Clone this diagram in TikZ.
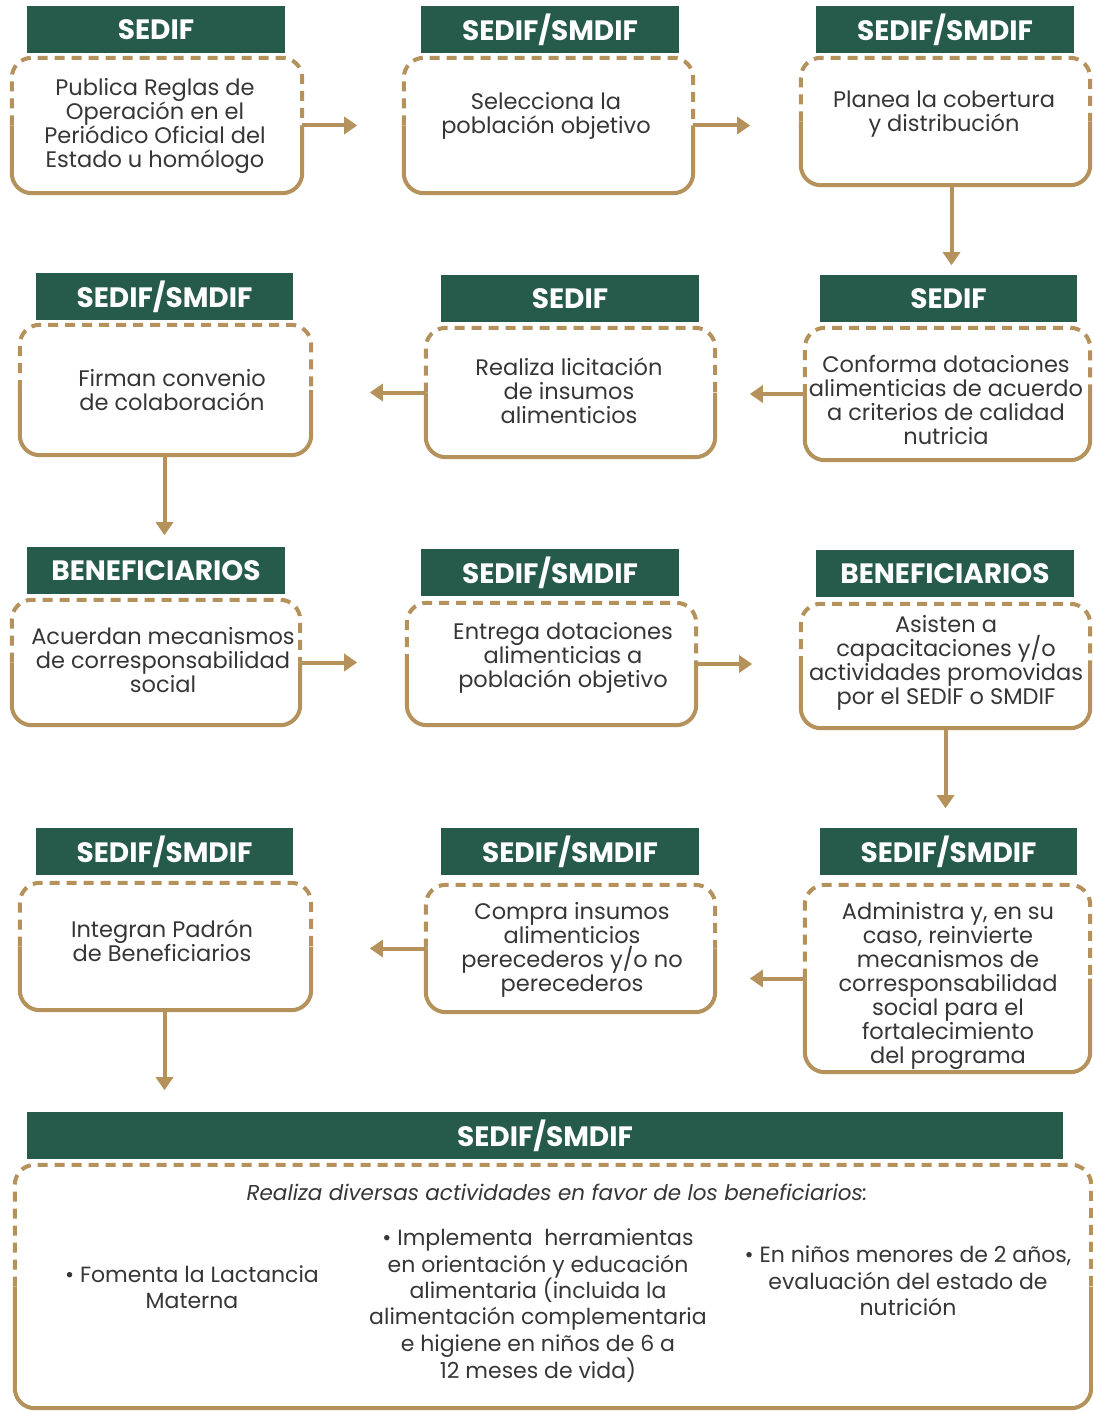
\documentclass[tikz,border=0pt]{standalone}
\usepackage{fontspec}
\setmainfont{Poppins}
\usetikzlibrary{arrows.meta,calc}
\definecolor{gold}{HTML}{B5925C}
\definecolor{hgreen}{HTML}{265A4B}
\definecolor{txt}{HTML}{363636}
\tikzset{
 hdr/.style={fill=hgreen, text=white, font=\bfseries\fontsize{28}{30}\selectfont, inner sep=0, minimum height=47pt},
 body/.style={inner sep=0, align=center, text=txt, font=\fontsize{22.5}{24}\selectfont},
 boxn/.style={inner sep=0, draw=none},
 dashedge/.style={draw=gold, line width=4pt, dash pattern=on 10pt off 7pt, rounded corners=20pt},
 solidedge/.style={draw=gold, line width=4pt, rounded corners=20pt},
 arr/.style={draw=gold, line width=4pt, -{Triangle[length=13pt,width=17pt]}},
}
\newcommand\frameit[1]{%
 \draw[dashedge] (#1.west) -- (#1.north west) -- (#1.north east) -- (#1.east);
 \draw[solidedge] (#1.west) -- (#1.south west) -- (#1.south east) -- (#1.east);}
\begin{document}
\begin{tikzpicture}[x=1pt,y=-1pt]
\fill[white] (0,0) rectangle (1092,1412);
\useasboundingbox (0,0) rectangle (1092,1412);
% boxes
\node[boxn, minimum width=290pt, minimum height=135pt] (b1) at (157,125.5) {};
\node[boxn, minimum width=289pt, minimum height=135pt] (b2) at (548.5,125.5) {};
\node[boxn, minimum width=289pt, minimum height=127pt] (b3) at (945.5,121.5) {};
\node[boxn, minimum width=291pt, minimum height=130pt] (b4) at (165.5,390) {};
\node[boxn, minimum width=289pt, minimum height=129pt] (b5) at (570.5,392.5) {};
\node[boxn, minimum width=285pt, minimum height=132pt] (b6) at (947.5,394) {};
\node[boxn, minimum width=288pt, minimum height=125pt] (b7) at (156,662.5) {};
\node[boxn, minimum width=289pt, minimum height=122pt] (b8) at (551.5,664) {};
\node[boxn, minimum width=289pt, minimum height=124pt] (b9) at (945.5,666) {};
\node[boxn, minimum width=291pt, minimum height=127pt] (b10) at (165.5,946.5) {};
\node[boxn, minimum width=289pt, minimum height=127pt] (b11) at (570.5,948.5) {};
\node[boxn, minimum width=285pt, minimum height=187pt] (b12) at (947.5,978.5) {};
\node[boxn, minimum width=1076pt, minimum height=243pt] (b13) at (553,1286.5) {};
\foreach \b in {b1,b2,b3,b4,b5,b6,b7,b8,b9,b10,b11,b12,b13} {\frameit{\b}}
% headers
\node[hdr, minimum width=258pt] (h1) at (156,30) {SEDIF};
\node[hdr, minimum width=258pt] (h2) at (550,30) {SEDIF/SMDIF};
\node[hdr, minimum width=258pt] (h3) at (945,30) {SEDIF/SMDIF};
\node[hdr, minimum width=257pt] (h4) at (164.5,296.5) {SEDIF/SMDIF};
\node[hdr, minimum width=258pt] (h5) at (570,298.5) {SEDIF};
\node[hdr, minimum width=257pt] (h6) at (948.5,298.5) {SEDIF};
\node[hdr, minimum width=258pt] (h7) at (156,570.5) {BENEFICIARIOS};
\node[hdr, minimum width=258pt] (h8) at (550,572.5) {SEDIF/SMDIF};
\node[hdr, minimum width=258pt] (h9) at (945,573.5) {BENEFICIARIOS};
\node[hdr, minimum width=257pt] (h10) at (164.5,851.5) {SEDIF/SMDIF};
\node[hdr, minimum width=258pt] (h11) at (570,851.5) {SEDIF/SMDIF};
\node[hdr, minimum width=257pt] (h12) at (948.5,851.5) {SEDIF/SMDIF};
\node[hdr, minimum width=1036pt] (h13) at (545,1135.5) {SEDIF/SMDIF};
% texts
\node[body] (t1) at (155,126) {Publica Reglas de\\Operación en el\\Periódico Oficial del\\Estado u homólogo};
\node[body] (t2) at (546,116) {Selecciona la\\población objetivo};
\node[body] (t3) at (944,114.5) {Planea la cobertura\\y distribución};
\node[body] (t4) at (172,390.5) {Firman convenio\\de colaboración};
\node[body] (t5) at (569,390.5) {Realiza licitación\\de insumos\\alimenticios};
\node[body] (t6) at (946,400) {Conforma dotaciones\\alimenticias de acuerdo\\a criterios de calidad\\nutricia};
\node[body] (t7) at (163,660) {Acuerdan mecanismos\\de corresponsabilidad\\social};
\node[body] (t8) at (563,658) {Entrega dotaciones\\alimenticias a\\población objetivo};
\node[body] (t9) at (946,662.5) {Asisten a\\capacitaciones y/o\\actividades promovidas\\por el SEDIF o SMDIF};
\node[body] (t10) at (162,941) {Integran Padrón\\de Beneficiarios};
\node[body] (t11) at (572,950) {Compra insumos\\alimenticios\\perecederos y/o no\\perecederos};
\node[body] (t12) at (948,986) {Administra y, en su\\caso, reinvierte\\mecanismos de\\corresponsabilidad\\social para el\\fortalecimiento\\del programa};
\node[body, font=\itshape\fontsize{21.5}{24}\selectfont] (ti) at (557,1192) {Realiza diversas actividades en favor de los beneficiarios:};
\node[body, font=\fontsize{22}{26.4}\selectfont] (c1) at (192,1287) {• Fomenta la Lactancia\\Materna};
\node[body, font=\fontsize{22}{26.4}\selectfont] (c2) at (538,1306) {• Implementa\ \ herramientas\\en orientación y educación\\alimentaria (incluida la\\alimentación complementaria\\e higiene en niños de 6 a\\12 meses de vida)};
\node[body, font=\fontsize{22}{26.4}\selectfont] (c3) at (908,1281) {• En niños menores de 2 años,\\evaluación del estado de\\nutrición};
% arrows
\coordinate (e1) at ($(b1.east)+(55,0)$);
\coordinate (e2) at ($(b2.east)+(57,0)$);
\coordinate (e3) at ($(b3.south)+(6,80)$);
\coordinate (e6) at ($(b6.west)+(-55,0)$);
\coordinate (e5) at ($(b5.west)+(-56,0)$);
\coordinate (e4) at ($(b4.south)+(-1,80)$);
\coordinate (e7) at ($(b7.east)+(57,0)$);
\coordinate (e8) at ($(b8.east)+(56,0)$);
\coordinate (e9) at ($(b9.south)+(0,80)$);
\coordinate (e12) at ($(b12.west)+(-55,0)$);
\coordinate (e11) at ($(b11.west)+(-56,0)$);
\coordinate (e10) at ($(b10.south)+(-1,80)$);
\draw[arr] (b1.east) -- (e1);
\draw[arr] (b2.east) -- (e2);
\draw[arr] ($(b3.south)+(6,0)$) -- (e3);
\draw[arr] (b6.west) -- (e6);
\draw[arr] (b5.west) -- (e5);
\draw[arr] ($(b4.south)+(-1,0)$) -- (e4);
\draw[arr] (b7.east) -- (e7);
\draw[arr] (b8.east) -- (e8);
\draw[arr] (b9.south) -- (e9);
\draw[arr] (b12.west) -- (e12);
\draw[arr] (b11.west) -- (e11);
\draw[arr] ($(b10.south)+(-1,0)$) -- (e10);
\end{tikzpicture}
\end{document}
